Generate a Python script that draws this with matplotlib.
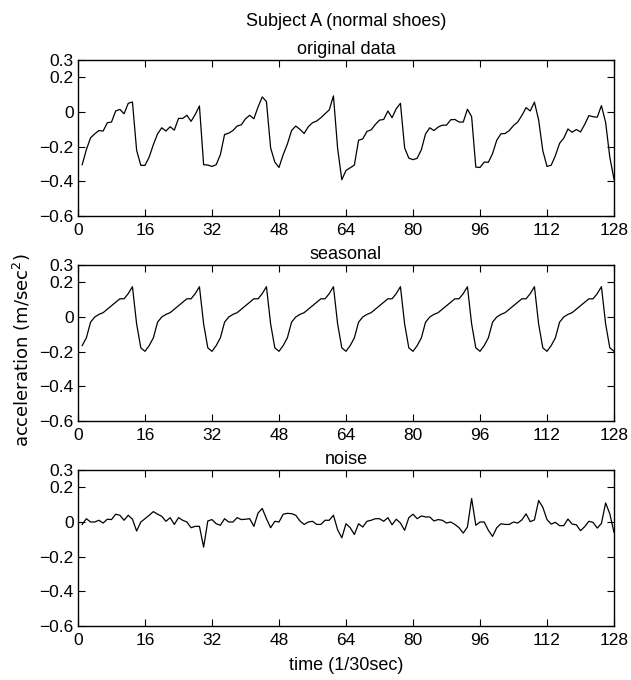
import numpy as np
import matplotlib
matplotlib.use("Agg")
import matplotlib.pyplot as plt

# time axis (samples at 1/30 sec)
t = np.arange(1, 129)

original = [
    -0.304, -0.217, -0.149, -0.126, -0.107, -0.110, -0.062, -0.058,
    0.006, 0.015, -0.010, 0.050, 0.058, -0.221, -0.308, -0.308,
    -0.260, -0.188, -0.126, -0.091, -0.110, -0.085, -0.105, -0.037,
    -0.037, -0.019, -0.054, -0.014, 0.035, -0.304, -0.306, -0.314,
    -0.304, -0.246, -0.130, -0.122, -0.107, -0.081, -0.074, -0.039,
    -0.019, -0.039, 0.029, 0.087, 0.060, -0.207, -0.289, -0.320,
    -0.246, -0.185, -0.107, -0.081, -0.100, -0.124, -0.085, -0.062,
    -0.052, -0.033, -0.010, 0.012, 0.093, -0.210, -0.391, -0.337,
    -0.322, -0.306, -0.163, -0.155, -0.112, -0.103, -0.072, -0.047,
    -0.043, 0.006, -0.033, 0.019, 0.050, -0.207, -0.266, -0.275,
    -0.267, -0.217, -0.126, -0.091, -0.107, -0.087, -0.076, -0.076,
    -0.045, -0.043, -0.058, -0.058, 0.016, -0.027, -0.318, -0.320,
    -0.289, -0.290, -0.240, -0.163, -0.126, -0.124, -0.107, -0.078,
    -0.058, -0.020, 0.025, 0.006, 0.057, -0.046, -0.223, -0.314,
    -0.307, -0.252, -0.181, -0.151, -0.098, -0.117, -0.101, -0.115,
    -0.072, -0.021, -0.027, -0.030, 0.037, -0.060, -0.261, -0.388,
]

seasonal = [
    -0.165, -0.120, -0.030, 0.000, 0.015, 0.025, 0.045, 0.065, 0.085, 0.105, 0.105, 0.135, 0.175, -0.040, -0.178, -0.198,
    -0.165, -0.120, -0.030, 0.000, 0.015, 0.025, 0.045, 0.065, 0.085, 0.105, 0.105, 0.135, 0.175, -0.040, -0.178, -0.198,
    -0.165, -0.120, -0.030, 0.000, 0.015, 0.025, 0.045, 0.065, 0.085, 0.105, 0.105, 0.135, 0.175, -0.040, -0.178, -0.198,
    -0.165, -0.120, -0.030, 0.000, 0.015, 0.025, 0.045, 0.065, 0.085, 0.105, 0.105, 0.135, 0.175, -0.040, -0.178, -0.198,
    -0.165, -0.120, -0.030, 0.000, 0.015, 0.025, 0.045, 0.065, 0.085, 0.105, 0.105, 0.135, 0.175, -0.040, -0.178, -0.198,
    -0.165, -0.120, -0.030, 0.000, 0.015, 0.025, 0.045, 0.065, 0.085, 0.105, 0.105, 0.135, 0.175, -0.040, -0.178, -0.198,
    -0.165, -0.120, -0.030, 0.000, 0.015, 0.025, 0.045, 0.065, 0.085, 0.105, 0.105, 0.135, 0.175, -0.040, -0.178, -0.198,
    -0.165, -0.120, -0.030, 0.000, 0.015, 0.025, 0.045, 0.065, 0.085, 0.105, 0.105, 0.135, 0.175, -0.040, -0.178, -0.198,
]

noise = [
    -0.014, 0.019, 0.000, 0.000, 0.010, -0.006, 0.016, 0.014,
    0.045, 0.039, 0.010, 0.039, 0.016, -0.052, 0.000, 0.019,
    0.039, 0.060, 0.045, 0.033, 0.004, 0.025, -0.014, 0.025,
    0.010, 0.000, -0.033, -0.025, -0.025, -0.145, 0.006, 0.014,
    -0.010, -0.019, 0.019, 0.000, 0.000, 0.025, 0.014, 0.016,
    0.019, -0.025, 0.052, 0.078, 0.019, -0.033, 0.004, 0.000,
    0.045, 0.050, 0.048, 0.039, 0.006, -0.014, 0.000, 0.004,
    -0.014, -0.014, 0.010, 0.010, 0.039, -0.045, -0.091, -0.010,
    -0.033, -0.072, -0.010, -0.029, 0.004, 0.010, 0.019, 0.019,
    0.004, 0.025, -0.016, 0.016, -0.006, -0.048, 0.025, 0.045,
    0.019, 0.035, 0.029, 0.029, 0.006, 0.014, 0.010, -0.006,
    0.000, -0.014, -0.033, -0.064, -0.029, 0.136, -0.019, 0.000,
    0.000, -0.048, -0.083, -0.033, -0.010, -0.014, -0.014, 0.000,
    -0.006, 0.012, 0.047, 0.002, 0.012, 0.124, 0.085, 0.014,
    -0.012, -0.002, -0.021, -0.021, 0.017, -0.012, -0.016, -0.050,
    -0.027, 0.004, -0.002, -0.035, -0.008, 0.110, 0.047, -0.060,
]

panel_titles = ["original data", "seasonal", "noise"]
x_ticks = [0, 16, 32, 48, 64, 80, 96, 112, 128]
y_ticks = [-0.6, -0.4, -0.2, 0, 0.2, 0.3]
y_tick_labels = ["\u22120.6", "\u22120.4", "\u22120.2", "0", "0.2", "0.3"]

plt.rcParams["font.family"] = ["Liberation Sans Narrow", "Liberation Sans", "DejaVu Sans"]

fig = plt.figure(figsize=(6.31, 6.80), dpi=100)

left, width, height = 78 / 631, 536 / 631, 156 / 680
bottoms = [1 - 216 / 680, 1 - 421 / 680, 1 - 626 / 680]

for data, title, b in zip([original, seasonal, noise], panel_titles, bottoms):
    ax = fig.add_axes([left, b, width, height])
    ax.plot(t, data, color="black", lw=0.9)
    ax.set_xlim(0, 128)
    ax.set_ylim(-0.6, 0.3)
    ax.set_xticks(x_ticks)
    ax.set_yticks(y_ticks)
    ax.set_yticklabels(y_tick_labels)
    ax.tick_params(direction="in", top=True, right=True, length=5,
                   width=0.8, labelsize=12.5)
    ax.tick_params(axis="x", pad=5)
    ax.tick_params(axis="y", pad=3)
    for s in ax.spines.values():
        s.set_linewidth(1.0)
    ax.set_title(title, fontsize=13, pad=4)

fig.text(346 / 631, 1 - 22 / 680, "Subject A (normal shoes)", ha="center",
         va="center", fontsize=13)
fig.text(346 / 631, 1 - 666 / 680, "time (1/30sec)", ha="center",
         va="center", fontsize=13)
fig.text(22 / 631, 0.485, "acceleration (m/sec$^2$)", rotation=90,
         ha="center", va="center", fontsize=13, family="DejaVu Sans")

fig.savefig("out.png", dpi=100)
